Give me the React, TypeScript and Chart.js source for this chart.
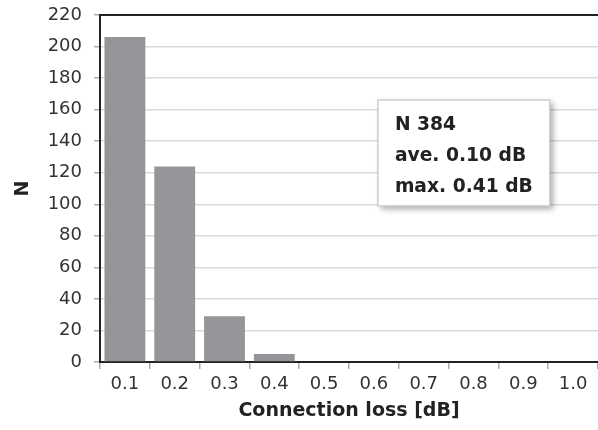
import React, { useEffect, useRef } from "react";
import { Chart, registerables } from "chart.js";

Chart.register(...registerables);

const categories = ["0.1", "0.2", "0.3", "0.4", "0.5", "0.6", "0.7", "0.8", "0.9", "1.0"];
const counts = [206, 124, 29, 5, 0, 0, 0, 0, 0, 0];
const yMin = 0;
const yMax = 220;
const yStep = 20;
const statLines = ["N 384", "ave. 0.10 dB", "max. 0.41 dB"];
const xTitle = "Connection loss [dB]";
const yTitle = "N";

const FONT = "'DejaVu Sans', Verdana, sans-serif";

const framePlugin = {
  id: "frameAndStats",
  afterDraw(chart: any) {
    const { ctx, chartArea: a } = chart;
    ctx.save();
    ctx.strokeStyle = "#222";
    ctx.lineWidth = 2;
    ctx.beginPath();
    ctx.moveTo(a.left, a.top);
    ctx.lineTo(a.right, a.top);
    ctx.stroke();

    const w = a.right - a.left;
    const h = a.bottom - a.top;
    const bx = a.left + 0.558 * w;
    const by = a.top + 0.245 * h;
    const bw = 0.345 * w;
    const bh = 0.305 * h;
    ctx.shadowColor = "rgba(0,0,0,0.35)";
    ctx.shadowBlur = 6;
    ctx.shadowOffsetX = 3;
    ctx.shadowOffsetY = 3;
    ctx.fillStyle = "#fff";
    ctx.fillRect(bx, by, bw, bh);
    ctx.shadowColor = "transparent";
    ctx.shadowBlur = 0;
    ctx.shadowOffsetX = 0;
    ctx.shadowOffsetY = 0;
    ctx.strokeStyle = "#cfcfcf";
    ctx.lineWidth = 1.5;
    ctx.strokeRect(bx, by, bw, bh);

    ctx.fillStyle = "#222";
    ctx.font = `bold 18.7px ${FONT}`;
    ctx.textAlign = "left";
    ctx.textBaseline = "middle";
    statLines.forEach((line, i) => {
      ctx.fillText(line, bx + 17, by + 25 + i * 31);
    });
    ctx.restore();
  },
};

export default function App() {
  const ref = useRef<HTMLCanvasElement | null>(null);

  useEffect(() => {
    if (!ref.current) return;
    const chart = new Chart(ref.current, {
      type: "bar",
      data: {
        labels: categories,
        datasets: [
          {
            data: counts,
            backgroundColor: "#939598",
            borderWidth: 0,
            barPercentage: 0.82,
            categoryPercentage: 1,
          },
        ],
      },
      options: {
        animation: false,
        responsive: true,
        maintainAspectRatio: false,
        layout: { padding: { top: 15, right: 0, left: 0, bottom: 0 } },
        plugins: {
          legend: { display: false },
          tooltip: { enabled: false },
        },
        scales: {
          x: {
            type: "category",
            offset: true,
            grid: {
              offset: true,
              drawOnChartArea: false,
              drawTicks: true,
              tickLength: 7,
              tickColor: "#aaa",
              lineWidth: 1.5,
            },
            border: { display: true, color: "#222", width: 2 },
            ticks: {
              color: "#333",
              font: { family: FONT, size: 18 },
              padding: 5,
              maxRotation: 0,
            },
            title: {
              display: true,
              text: xTitle,
              color: "#222",
              font: { family: FONT, size: 19, weight: "bold" },
              padding: { top: 4, bottom: 8 },
            },
            afterFit(scale: any) {
              scale.height = 68;
              scale.paddingRight = 0;
            },
          },
          y: {
            min: yMin,
            max: yMax,
            ticks: {
              stepSize: yStep,
              color: "#333",
              font: { family: FONT, size: 18 },
              padding: 12,
            },
            grid: {
              color: "#d9d9d9",
              lineWidth: 1.5,
              tickLength: 6,
              tickColor: "#aaa",
            },
            border: { display: true, color: "#222", width: 2 },
            title: {
              display: true,
              text: yTitle,
              color: "#222",
              font: { family: FONT, size: 19, weight: "bold" },
              padding: { top: 12, bottom: 4 },
            },
            afterFit(scale: any) {
              scale.width = 100;
              scale.paddingTop = 0;
              scale.paddingBottom = 0;
            },
          },
        },
      },
      plugins: [framePlugin],
    });
    return () => chart.destroy();
  }, []);

  return (
    <div style={{ position: "fixed", left: 0, top: 0, width: 598, height: 430, background: "#fff" }}>
      <canvas ref={ref} />
    </div>
  );
}
